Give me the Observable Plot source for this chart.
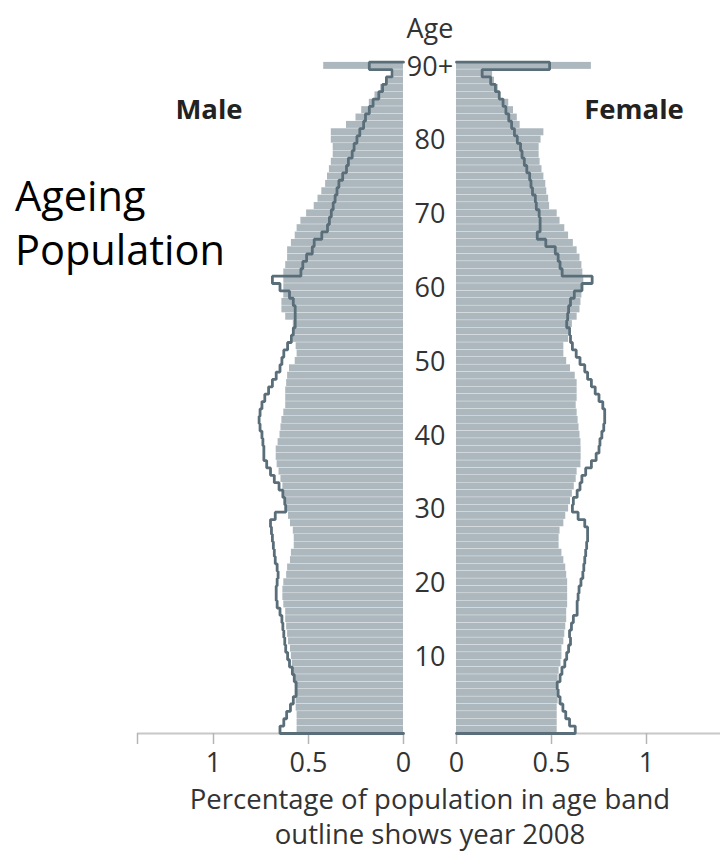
<!DOCTYPE html>
<html><head><meta charset="utf-8">
<script src="https://cdn.jsdelivr.net/npm/d3@7"></script>
<script src="https://cdn.jsdelivr.net/npm/@observablehq/plot@0.6"></script>
<style>
body{margin:0;background:#fff;overflow:hidden;}
#wrap{position:relative;width:720px;height:854px;overflow:hidden;font-family:"Open Sans",sans-serif;}
.t{position:absolute;white-space:nowrap;line-height:1;transform:translate(-50%,-50%);color:#333;}
.plot{position:absolute;top:0;overflow:visible;}
</style></head><body><div id="wrap"></div>
<script>
// ---- data ----
const ages = d3.range(0, 91);
const ageTicks = [10, 20, 30, 40, 50, 60, 70, 80, 90];
const ageTickLabels = ["10", "20", "30", "40", "50", "60", "70", "80", "90+"];
const xTicks = [0, 0.5, 1];
const xTickLabels = ["0", "0.5", "1"];
const xMax = 1.4;

const maleNow = [
  0.56,0.56,0.56,0.565,0.565,0.57,0.57,0.575,0.58,0.585,
  0.59,0.595,0.605,0.61,0.615,0.62,0.62,0.63,0.635,0.635,
  0.63,0.615,0.61,0.595,0.59,0.575,0.575,0.58,0.595,0.605,
  0.615,0.62,0.63,0.635,0.645,0.655,0.665,0.67,0.67,0.66,
  0.65,0.645,0.64,0.63,0.62,0.62,0.62,0.615,0.61,0.60,
  0.57,0.56,0.565,0.58,0.58,0.58,0.62,0.64,0.64,0.63,
  0.63,0.63,0.63,0.62,0.61,0.61,0.59,0.57,0.56,0.54,
  0.51,0.47,0.45,0.43,0.41,0.40,0.39,0.38,0.37,0.37,
  0.38,0.38,0.30,0.25,0.22,0.18,0.15,0.12,0.09,0.05,
  0.42
];
const male2008 = [
  0.65,0.63,0.615,0.595,0.58,0.565,0.565,0.575,0.585,0.60,
  0.61,0.62,0.625,0.63,0.635,0.64,0.65,0.665,0.67,0.67,
  0.665,0.66,0.665,0.675,0.68,0.685,0.69,0.695,0.70,0.675,
  0.62,0.625,0.635,0.655,0.68,0.70,0.72,0.735,0.735,0.74,
  0.745,0.755,0.76,0.755,0.745,0.73,0.71,0.69,0.67,0.65,
  0.64,0.63,0.61,0.59,0.58,0.57,0.57,0.57,0.58,0.60,
  0.65,0.69,0.54,0.53,0.51,0.48,0.47,0.43,0.40,0.39,
  0.38,0.37,0.36,0.35,0.34,0.32,0.30,0.29,0.27,0.26,
  0.245,0.23,0.21,0.20,0.18,0.16,0.13,0.11,0.09,0.06,
  0.18
];
const femaleNow = [
  0.53,0.53,0.53,0.53,0.535,0.535,0.53,0.535,0.54,0.55,
  0.555,0.555,0.565,0.57,0.575,0.58,0.58,0.585,0.585,0.585,
  0.585,0.58,0.575,0.565,0.555,0.54,0.54,0.545,0.565,0.575,
  0.59,0.60,0.61,0.62,0.63,0.635,0.655,0.656,0.656,0.655,
  0.65,0.645,0.64,0.635,0.63,0.635,0.635,0.635,0.625,0.60,
  0.58,0.565,0.565,0.59,0.59,0.61,0.635,0.65,0.655,0.66,
  0.67,0.67,0.665,0.66,0.65,0.635,0.615,0.59,0.57,0.545,
  0.53,0.49,0.485,0.475,0.47,0.46,0.45,0.44,0.435,0.435,
  0.445,0.46,0.335,0.32,0.30,0.275,0.23,0.22,0.20,0.19,
  0.71
];
const female2008 = [
  0.625,0.595,0.575,0.56,0.545,0.535,0.53,0.545,0.555,0.57,
  0.58,0.59,0.60,0.595,0.605,0.615,0.635,0.635,0.64,0.645,
  0.655,0.665,0.67,0.675,0.68,0.685,0.69,0.69,0.675,0.64,
  0.61,0.615,0.635,0.65,0.66,0.68,0.71,0.735,0.75,0.755,
  0.765,0.775,0.78,0.78,0.77,0.75,0.73,0.71,0.69,0.675,
  0.65,0.63,0.61,0.60,0.595,0.58,0.585,0.59,0.60,0.62,
  0.66,0.714,0.556,0.545,0.535,0.52,0.47,0.425,0.44,0.44,
  0.435,0.42,0.415,0.40,0.392,0.385,0.37,0.357,0.345,0.337,
  0.32,0.305,0.29,0.275,0.26,0.245,0.225,0.205,0.18,0.135,
  0.49
];

// ---- layout ----
const W = 720, H = 854;
const BASE = 733, TOP = 61.7;
const BAR = "#adb8be", OUT = "#5a6e7a", AXIS = "#c8c8c8";
const wrap = document.getElementById("wrap");

function rows(now, old) {
  return ages.map(a => ({age: a, now: now[a], old: old[a]}));
}
function outlinePts(old) {
  const pts = [{v: 0, y: 0}];
  ages.forEach(a => { pts.push({v: old[a], y: a}); pts.push({v: old[a], y: a + 1}); });
  pts.push({v: 0, y: ages.length});
  return pts;
}

function side(now, old, opts) {
  const data = rows(now, old);
  const marks = [
    Plot.rectX(data, {x1: 0, x2: "now", y1: "age", y2: d => d.age + 1, fill: BAR, insetTop: 0.2, insetBottom: 0.2}),
    Plot.ruleY([0], {stroke: AXIS, strokeWidth: 2}),
    Plot.axisX({
      ticks: [...xTicks, xMax],
      tickFormat: d => { const i = xTicks.indexOf(d); return i >= 0 ? xTickLabels[i] : ""; },
      tickSize: 11, tickPadding: 8, stroke: "#b5b5b5", strokeWidth: 1.5, fill: "#333",
      fontSize: 27, label: null
    }),
    Plot.line(outlinePts(old), {x: "v", y: "y", stroke: OUT, strokeWidth: 2.8, strokeLinejoin: "miter"}),
    ...(opts.extra || [])
  ];
  const svg = Plot.plot({
    width: opts.width, height: H,
    marginLeft: opts.ml, marginRight: opts.mr, marginTop: TOP, marginBottom: H - BASE,
    x: {domain: [0, xMax], reverse: opts.reverse},
    y: {domain: [0, ages.length], axis: null},
    style: {fontFamily: "'Open Sans', sans-serif", overflow: "visible", background: "transparent"},
    marks
  });
  svg.classList.add("plot");
  svg.style.left = opts.left + "px";
  wrap.appendChild(svg);
}

side(maleNow, male2008, {width: 403, ml: 137, mr: 0, reverse: true, left: 0});
side(femaleNow, female2008, {
  width: 319, ml: 53, mr: 0, reverse: false, left: 403,
  extra: [
    Plot.text(ageTicks, {
      y: d => d, dy: -2.5, text: (d, i) => ageTickLabels[i],
      frameAnchor: "left", dx: -26.5, textAnchor: "middle", fontSize: 27, fill: "#333"
    })
  ]
});

function label(txt, x, y, css) {
  const d = document.createElement("div");
  d.className = "t";
  d.textContent = txt;
  d.style.left = x + "px";
  d.style.top = y + "px";
  Object.assign(d.style, css || {});
  wrap.appendChild(d);
}
label("Age", 430, 27, {fontSize: "27px"});
label("Male", 209, 109, {fontSize: "27.5px", fontWeight: "700", color: "#222"});
label("Female", 634, 109, {fontSize: "27.5px", fontWeight: "700", color: "#222"});
label("Percentage of population in age band", 430, 799, {fontSize: "27.5px"});
label("outline shows year 2008", 430, 834, {fontSize: "27.5px"});
label("Ageing", 15, 196, {fontSize: "41.5px", color: "#000", transform: "translate(0,-50%)"});
label("Population", 15, 250, {fontSize: "41.5px", color: "#000", transform: "translate(0,-50%)"});
</script></body></html>
